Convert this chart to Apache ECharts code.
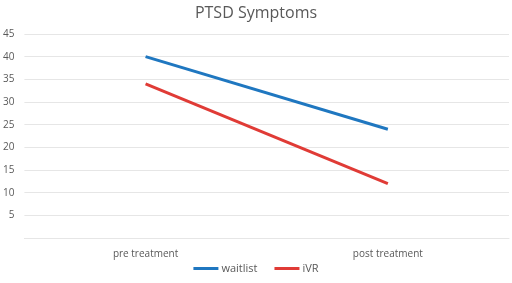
<!DOCTYPE html>
<html><head><meta charset="utf-8">
<script src="https://cdn.jsdelivr.net/npm/echarts@6/dist/echarts.min.js"></script>
<style>html,body{margin:0;padding:0;background:#fff}#c{width:512px;height:283px}</style>
</head><body><div id="c"></div>
<script>
const categories = ['pre treatment', 'post treatment'];
const waitlist = [40, 24];
const iVR = [34, 12];
const chart = echarts.init(document.getElementById('c'));
chart.setOption({
  animation: false,
  title: {text: 'PTSD Symptoms', left: 'center', top: 0,
    textStyle: {fontFamily: 'Open Sans', fontWeight: 'normal', fontSize: 16, color: '#595959'}},
  grid: {left: 24, right: 3, top: 34, bottom: 45},
  legend: {top: 258, left: 'center', itemWidth: 25, itemHeight: 3, itemGap: 17,
    icon: 'rect',
    textStyle: {fontFamily: 'Open Sans', fontSize: 11, color: '#595959', padding: [0, 0, 0, -2]},
    data: ['waitlist', 'iVR']},
  xAxis: {type: 'category', data: categories, boundaryGap: true,
    axisLine: {show: true, lineStyle: {color: '#e6e6e6'}}, axisTick: {show: false},
    axisLabel: {fontFamily: 'Open Sans', fontSize: 10, color: '#595959', margin: 11}},
  yAxis: {type: 'value', min: 0, max: 45, interval: 5,
    axisLine: {show: false}, axisTick: {show: false},
    splitLine: {lineStyle: {color: '#e6e6e6', width: 1}},
    axisLabel: {fontFamily: 'Open Sans', fontSize: 10, color: '#595959', margin: 10,
      formatter: v => v === 0 ? '' : v}},
  series: [
    {name: 'waitlist', type: 'line', data: waitlist, symbol: 'none',
      lineStyle: {width: 3, color: '#1f77c0'}, itemStyle: {color: '#1f77c0'}},
    {name: 'iVR', type: 'line', data: iVR, symbol: 'none',
      lineStyle: {width: 3, color: '#e03b36'}, itemStyle: {color: '#e03b36'}}
  ]
});
</script></body></html>
